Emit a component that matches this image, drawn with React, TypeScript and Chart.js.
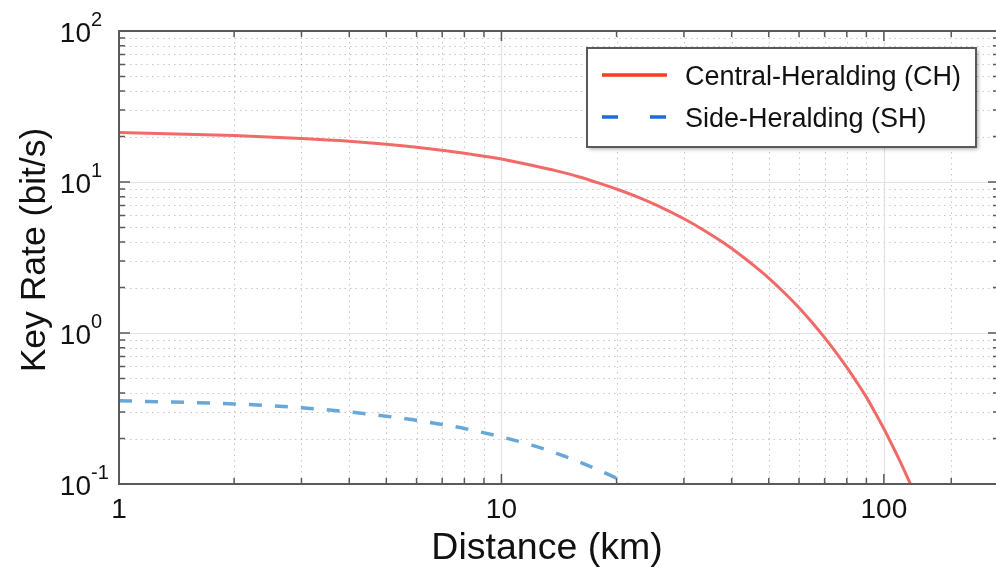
import React, { useEffect, useRef } from 'react';
import { Chart, registerables } from 'chart.js';

Chart.register(...registerables);

// ---- data ----
const chDistance = [1, 2, 3, 4, 5, 6, 8, 10, 12, 14, 16, 18, 20, 23, 26, 30, 34, 38, 42, 46, 50, 55, 60, 65, 70, 75, 80, 85, 90, 95, 100, 105, 110, 115, 120, 125];
const chRate = [21.3, 20.3, 19.4, 18.6, 17.8, 17.0, 15.5, 14.2, 12.9, 11.8, 10.8, 9.84, 8.99, 7.85, 6.85, 5.71, 4.76, 3.97, 3.31, 2.76, 2.31, 1.84, 1.47, 1.17, 0.931, 0.741, 0.592, 0.471, 0.376, 0.295, 0.232, 0.182, 0.143, 0.112, 0.088, 0.069];

const shDistance = [1, 2, 3, 4, 5, 6, 7, 8, 10, 12, 14, 16, 18, 20, 22, 24];
const shRate = [0.356, 0.339, 0.32, 0.3, 0.281, 0.264, 0.248, 0.233, 0.205, 0.181, 0.159, 0.14, 0.123, 0.109, 0.096, 0.084];

const seriesLabels = ['Central-Heralding (CH)', 'Side-Heralding (SH)'];
const xTitle = 'Distance (km)';
const yTitle = 'Key Rate (bit/s)';

const xMajorTicks = [1, 10, 100];
const xMinorTicks = [2, 3, 4, 5, 6, 7, 8, 9, 20, 30, 40, 50, 60, 70, 80, 90, 150];
const xTickLabels = ['1', '10', '100'];

const yMajorTicks = [0.1, 1, 10, 100];
const yMinorTicks = [0.2, 0.3, 0.4, 0.5, 0.6, 0.7, 0.8, 0.9, 2, 3, 4, 5, 6, 7, 8, 9, 20, 30, 40, 50, 60, 70, 80, 90];
const yTickBases = ['10', '10', '10', '10'];
const yTickExponents = ['-1', '0', '1', '2'];

const FONT = '"Liberation Sans", Arial, Helvetica, sans-serif';
const lineColors = ['#f26a68', '#68a8d8'];
const legendColors = ['#ff3b1e', '#1f6fd1'];

const framePlugin = {
  id: 'matlabFrame',
  beforeDatasetsDraw(chart: any) {
    const { ctx, chartArea } = chart;
    const { left, right, top, bottom } = chartArea;
    const xs = chart.scales.x;
    const ys = chart.scales.y;
    ctx.save();
    // minor dotted grid
    ctx.strokeStyle = 'rgba(0,0,0,0.22)';
    ctx.lineWidth = 1;
    ctx.setLineDash([1.5, 4]);
    xMinorTicks.forEach((v) => {
      const px = Math.round(xs.getPixelForValue(v)) + 0.5;
      ctx.beginPath();
      ctx.moveTo(px, top);
      ctx.lineTo(px, bottom);
      ctx.stroke();
    });
    yMinorTicks.forEach((v) => {
      const py = Math.round(ys.getPixelForValue(v)) + 0.5;
      ctx.beginPath();
      ctx.moveTo(left, py);
      ctx.lineTo(right, py);
      ctx.stroke();
    });
    // major solid grid
    ctx.setLineDash([]);
    ctx.strokeStyle = '#e2e2e2';
    ctx.lineWidth = 1.2;
    xMajorTicks.forEach((v) => {
      const px = Math.round(xs.getPixelForValue(v)) + 0.5;
      ctx.beginPath();
      ctx.moveTo(px, top);
      ctx.lineTo(px, bottom);
      ctx.stroke();
    });
    yMajorTicks.forEach((v) => {
      const py = Math.round(ys.getPixelForValue(v)) + 0.5;
      ctx.beginPath();
      ctx.moveTo(left, py);
      ctx.lineTo(right, py);
      ctx.stroke();
    });
    ctx.restore();
  },
  afterDatasetsDraw(chart: any) {
    const { ctx, chartArea } = chart;
    const { left, right, top, bottom } = chartArea;
    const xs = chart.scales.x;
    const ys = chart.scales.y;
    ctx.save();
    // frame
    ctx.strokeStyle = '#5a5a5a';
    ctx.lineWidth = 2;
    ctx.strokeRect(left, top, right - left, bottom - top);
    // inward ticks on all sides
    ctx.lineWidth = 1.5;
    const drawX = (v: number, len: number) => {
      const px = xs.getPixelForValue(v);
      ctx.beginPath();
      ctx.moveTo(px, bottom);
      ctx.lineTo(px, bottom - len);
      ctx.moveTo(px, top);
      ctx.lineTo(px, top + len);
      ctx.stroke();
    };
    const drawY = (v: number, len: number) => {
      const py = ys.getPixelForValue(v);
      ctx.beginPath();
      ctx.moveTo(left, py);
      ctx.lineTo(left + len, py);
      ctx.moveTo(right, py);
      ctx.lineTo(right - len, py);
      ctx.stroke();
    };
    xMajorTicks.forEach((v) => drawX(v, 10));
    xMinorTicks.forEach((v) => drawX(v, 6));
    yMajorTicks.forEach((v) => drawY(v, 11));
    yMinorTicks.forEach((v) => drawY(v, 6));

    // y tick labels with superscript exponents
    ctx.fillStyle = '#111';
    yMajorTicks.forEach((v, i) => {
      const py = ys.getPixelForValue(v);
      ctx.font = `28px ${FONT}`;
      ctx.textAlign = 'right';
      ctx.textBaseline = 'alphabetic';
      ctx.fillText(yTickBases[i], 91, py + 10.5);
      ctx.font = `20px ${FONT}`;
      ctx.textAlign = 'left';
      ctx.fillText(yTickExponents[i], 91, py - 5);
    });

    // axis titles
    ctx.fillStyle = '#111';
    ctx.font = `37.5px ${FONT}`;
    ctx.textAlign = 'center';
    ctx.textBaseline = 'alphabetic';
    ctx.fillText(xTitle, 547, 559);
    ctx.save();
    ctx.translate(45, 250);
    ctx.rotate(-Math.PI / 2);
    ctx.font = `35.5px ${FONT}`;
    ctx.fillText(yTitle, 0, 0);
    ctx.restore();

    // legend
    const bx = 587, by = 48, bw = 389, bh = 99;
    ctx.save();
    ctx.shadowColor = 'rgba(0,0,0,0.35)';
    ctx.shadowBlur = 4;
    ctx.shadowOffsetX = 2;
    ctx.shadowOffsetY = 2;
    ctx.fillStyle = '#ffffff';
    ctx.fillRect(bx, by, bw, bh);
    ctx.restore();
    ctx.strokeStyle = '#5a5a5a';
    ctx.lineWidth = 2;
    ctx.strokeRect(bx, by, bw, bh);

    const rows = [75, 117];
    chart.data.datasets.forEach((ds: any, i: number) => {
      const y = rows[i];
      ctx.strokeStyle = legendColors[i];
      ctx.lineWidth = 3.5;
      ctx.setLineDash(i === 1 ? [16, 32] : []);
      ctx.beginPath();
      ctx.moveTo(602, y);
      ctx.lineTo(667, y);
      ctx.stroke();
      ctx.setLineDash([]);
      ctx.fillStyle = '#111';
      ctx.font = `27px ${FONT}`;
      ctx.textAlign = 'left';
      ctx.textBaseline = 'alphabetic';
      ctx.fillText(ds.label, 685, y + 10);
    });
    ctx.restore();
  },
};

export default function App() {
  const ref = useRef<HTMLCanvasElement | null>(null);

  useEffect(() => {
    if (!ref.current) return;
    const chart = new Chart(ref.current, {
      type: 'line',
      data: {
        datasets: [
          {
            label: seriesLabels[0],
            data: chDistance.map((x, i) => ({ x, y: chRate[i] })),
            borderColor: lineColors[0],
            borderWidth: 3,
            pointRadius: 0,
            cubicInterpolationMode: 'monotone',
            fill: false,
            clip: 0,
          },
          {
            label: seriesLabels[1],
            data: shDistance.map((x, i) => ({ x, y: shRate[i] })),
            borderColor: lineColors[1],
            borderWidth: 3.5,
            borderDash: [13, 13],
            pointRadius: 0,
            cubicInterpolationMode: 'monotone',
            fill: false,
            clip: 0,
          },
        ],
      },
      options: {
        responsive: false,
        animation: false,
        devicePixelRatio: 1,
        layout: { padding: { left: 0, right: 4, top: 31, bottom: 0 } },
        plugins: { legend: { display: false }, tooltip: { enabled: false } },
        scales: {
          x: {
            type: 'logarithmic',
            min: 1,
            max: 200,
            afterBuildTicks: (s: any) => {
              s.ticks = [...xMajorTicks, ...xMinorTicks].sort((a, b) => a - b).map((v) => ({ value: v }));
            },
            afterFit: (s: any) => {
              s.height = 84;
            },
            grid: { display: false, drawTicks: false },
            border: { display: false },
            ticks: {
              autoSkip: false,
              maxRotation: 0,
              padding: 9,
              color: '#111',
              font: { family: FONT, size: 28 },
              callback: (v: any) => {
                const idx = xMajorTicks.indexOf(Number(v));
                return idx >= 0 ? xTickLabels[idx] : '';
              },
            },
            title: { display: false, text: xTitle },
          },
          y: {
            type: 'logarithmic',
            min: 0.1,
            max: 100,
            afterBuildTicks: (s: any) => {
              s.ticks = [...yMajorTicks, ...yMinorTicks].sort((a, b) => a - b).map((v) => ({ value: v }));
            },
            afterFit: (s: any) => {
              s.width = 119;
            },
            grid: { display: false, drawTicks: false },
            border: { display: false },
            ticks: { display: false },
            title: { display: false, text: yTitle },
          },
        },
      },
      plugins: [framePlugin],
    } as any);
    return () => chart.destroy();
  }, []);

  return (
    <div style={{ position: 'fixed', left: 0, top: 0, width: 996, height: 568, overflow: 'hidden', background: '#fff' }}>
      <canvas ref={ref} width={1003} height={568} style={{ display: 'block', width: 1003, height: 568 }} />
    </div>
  );
}
